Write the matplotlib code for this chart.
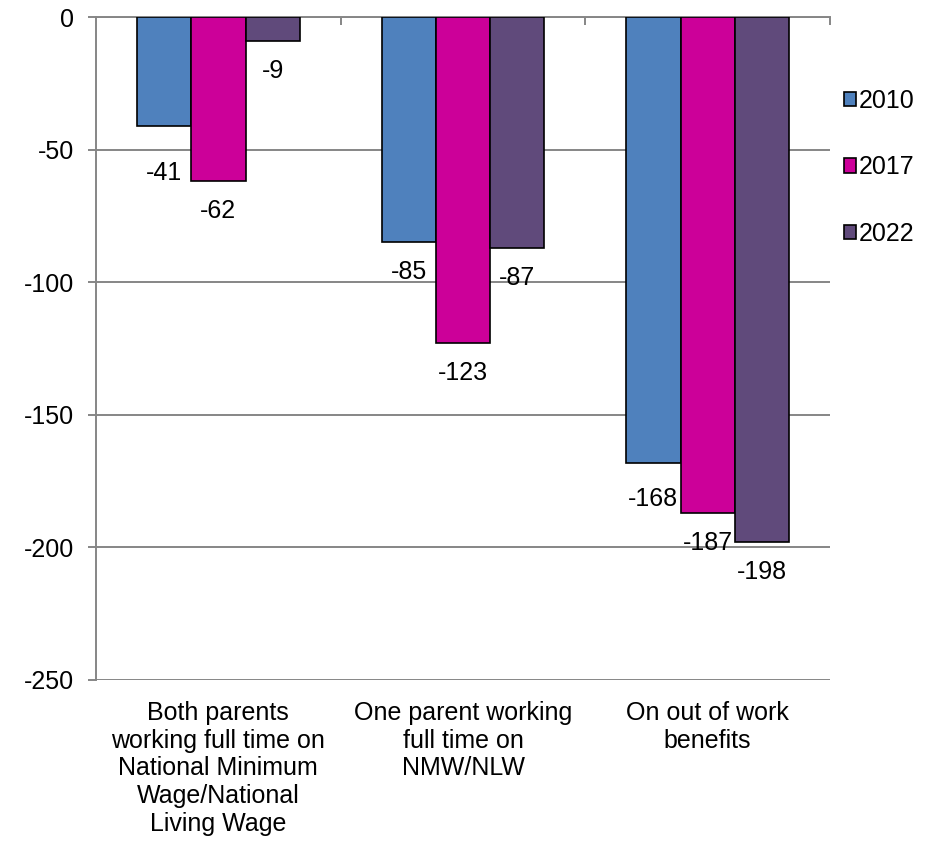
import matplotlib

matplotlib.use('Agg')

import matplotlib.pyplot as plt
import numpy as np

plt.rcParams.update({
    'font.family': ['Liberation Sans', 'DejaVu Sans'],
    'font.size': 18,
    'axes.unicode_minus': False,
})

categories = ['Both parents\nworking full time on\nNational Minimum\nWage/National\nLiving Wage',
              'One parent working\nfull time on\nNMW/NLW',
              'On out of work\nbenefits']
years = ['2010', '2017', '2022']
v2010 = [-41, -85, -168]
v2017 = [-62, -123, -187]
v2022 = [-9, -87, -198]
colors = ['#4F81BD', '#CC0099', '#604A7B']

grid_c = '#868686'

fig = plt.figure(figsize=(9.37, 8.47), dpi=100)
ax = fig.add_axes([0.1025, 0.1972, 0.7833, 0.7827])

x = np.arange(len(categories))
w = 0.222
series = [v2010, v2017, v2022]
# extra label drop (pixels) for labels nudged in the original
extra = {(0, 0): 17, (0, 2): 6}
for i, (vals, col, yr) in enumerate(zip(series, colors, years)):
    pos = x + (i - 1) * w
    ax.bar(pos, vals, width=w, color=col, edgecolor='black', linewidth=1.2,
           label=yr, zorder=3)
    for j, (p, v) in enumerate(zip(pos, vals)):
        off = 30 + extra.get((i, j), 0)
        ax.annotate(f'{v}', (p, v), xytext=(0, -off * 0.72), textcoords='offset points',
                    ha='center', va='center', fontsize=18, zorder=2)

ax.set_xlim(-0.5, 2.5)
ax.set_ylim(-250, 0)
ax.set_yticks(np.arange(-250, 1, 50))
ax.yaxis.grid(True, color=grid_c, linewidth=1.4, zorder=0)
ax.set_axisbelow(True)

ax.set_xticks(x)
ax.set_xticklabels(categories, linespacing=1.2)
ax.set_xticks([0.5, 1.5, 2.5], minor=True)
ax.tick_params(axis='x', which='major', length=0, pad=15, labelsize=18)
ax.tick_params(axis='x', which='minor', bottom=False, top=True, direction='in',
               length=6, width=1.4, color=grid_c)
ax.tick_params(axis='y', length=6, width=1.4, color=grid_c, labelsize=18, pad=10)

for s in ['right', 'bottom']:
    ax.spines[s].set_visible(False)
for s in ['left', 'top']:
    ax.spines[s].set_color(grid_c)
    ax.spines[s].set_linewidth(1.4)

leg = fig.legend(loc='upper left', bbox_to_anchor=(0.9005, 0.8955), frameon=False,
                 handlelength=0.5, handleheight=0.5, handletextpad=0.1,
                 labelspacing=1.71, fontsize=18, borderaxespad=0, borderpad=0)

plt.savefig('out.png', dpi=100)
